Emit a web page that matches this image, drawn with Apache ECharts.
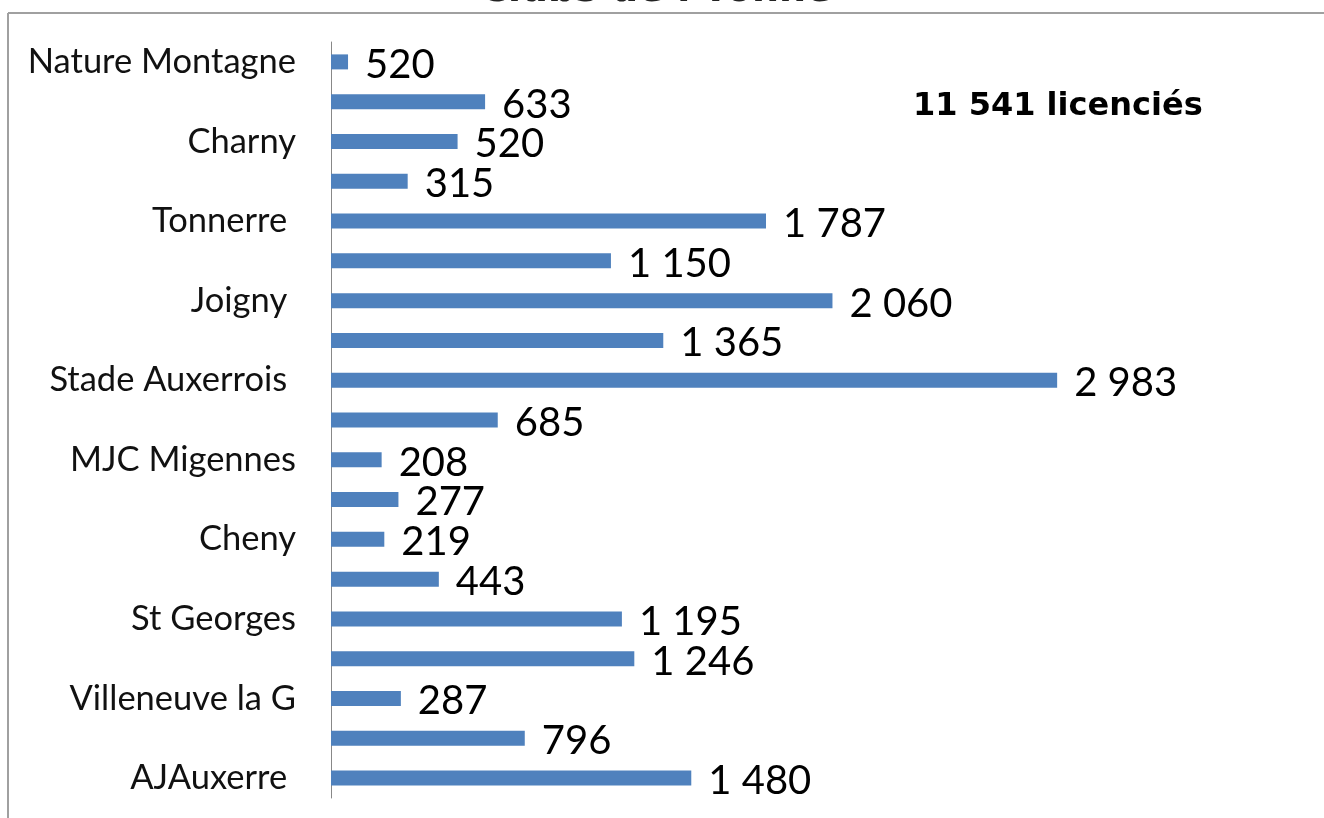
<!DOCTYPE html>
<html><head><meta charset="utf-8">
<script src="https://cdn.jsdelivr.net/npm/echarts@6/dist/echarts.min.js"></script>
<style>html,body{margin:0;padding:0;background:#fff}#c{width:1324px;height:818px}</style>
</head><body><div id="c"></div>
<script>
const categories = ["Nature Montagne","","Charny","","Tonnerre ","","Joigny ","","Stade Auxerrois ","","MJC Migennes","","Cheny","","St Georges","","Villeneuve la G","","AJAuxerre "];
const barValues = [70,633,520,315,1787,1150,2060,1365,2983,685,208,277,219,443,1195,1246,287,796,1480];
const valueLabels = ["520","633","520","315","1 787","1 150","2 060","1 365","2 983","685","208","277","219","443","1 195","1 246","287","796","1 480"];
const totalText = "11 541 licenciés";
const titleText = "Clubs de l'Yonne";

const chart = echarts.init(document.getElementById('c'));
chart.setOption({
  animation:false,
  backgroundColor:'#fff',
  grid:{left:331,top:42,width:852,height:756},
  xAxis:{type:'value',min:0,max:3500,show:false},
  yAxis:{type:'category',data:categories,inverse:true,
    axisLine:{show:true,lineStyle:{color:'#888',width:1}},
    axisTick:{show:false},
    axisLabel:{interval:1,margin:35,color:'#111',fontFamily:'Lato',fontSize:34.5}},
  series:[{type:'bar',data:barValues,barWidth:15,
    itemStyle:{color:'#4F81BD'},
    label:{show:true,position:'right',distance:17,offset:[0,3],color:'#000',fontFamily:'Lato',fontSize:40,
      formatter:p=>valueLabels[p.dataIndex]}}],
  graphic:[
    {type:'text',x:480,y:10,style:{text:titleText,fill:'#222',font:'bold 38px "DejaVu Sans"',verticalAlign:'bottom'}},
    {type:'line',shape:{x1:8,y1:13,x2:1324,y2:13},style:{stroke:'#a0a0a0',lineWidth:2}},
    {type:'line',shape:{x1:8,y1:13,x2:8,y2:818},style:{stroke:'#a0a0a0',lineWidth:2}},
    {type:'text',x:913,y:107,style:{text:totalText,fill:'#000',font:'bold 32px "DejaVu Sans"',verticalAlign:'middle'}}
  ]
});
</script></body></html>
